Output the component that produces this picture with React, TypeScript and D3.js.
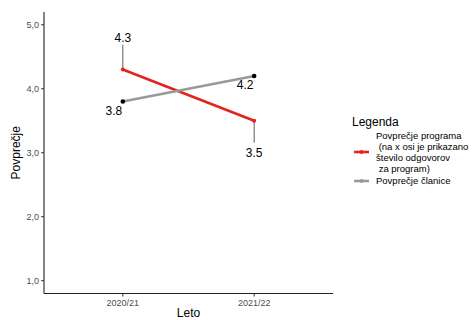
import React from "react";
import * as d3 from "d3";

const years = ["2020/21", "2021/22"];
const programValues = [4.3, 3.5];
const memberValues = [3.8, 4.2];
const yTicks = [1, 2, 3, 4, 5];
const legendProgramLines = ["Povprečje programa", " (na x osi je prikazano", "število odgovorov", " za program)"];
const legendMemberLabel = "Povprečje članice";

const W = 475, H = 320;
const panel = { left: 44, right: 333, top: 12, bottom: 293.5 };
const font = "Liberation Sans, Arial, sans-serif";

export default function App() {
  const x = d3.scaleLinear().domain([0.4, 2.6]).range([panel.left, panel.right]);
  const xPos = (i: number) => x(i + 1);
  const y = d3.scaleLinear().domain([0.8, 5.2]).range([panel.bottom, panel.top]);
  const line = d3.line<number>().x((_, i) => xPos(i)).y((v) => y(v));
  const red = "#e3241c";
  const gray = "#999999";

  const progLabels = [
    { dx: 0, dy: -32 },
    { dx: 0, dy: 32 },
  ];
  const memLabels = [
    { dx: -9, dy: 9 },
    { dx: -9, dy: 9 },
  ];

  return (
    <svg width={W} height={H} style={{ display: "block", position: "absolute", left: 0, top: 0, background: "#fff" }}>
      <line x1={panel.left} x2={panel.left} y1={panel.top} y2={panel.bottom} stroke="#222" strokeWidth={1.1} />
      <line x1={panel.left} x2={panel.right} y1={panel.bottom} y2={panel.bottom} stroke="#222" strokeWidth={1.1} />
      {yTicks.map((t) => (
        <g key={t}>
          <line x1={panel.left - 3} x2={panel.left} y1={y(t)} y2={y(t)} stroke="#333" strokeWidth={1} />
          <text x={panel.left - 5} y={y(t)} dy="0.35em" textAnchor="end" fontSize={9} fill="#4d4d4d" fontFamily={font}>
            {t.toFixed(1).replace(".", ",")}
          </text>
        </g>
      ))}
      {years.map((yr, i) => (
        <g key={yr}>
          <line x1={xPos(i)} x2={xPos(i)} y1={panel.bottom} y2={panel.bottom + 3} stroke="#333" strokeWidth={1} />
          <text x={xPos(i)} y={panel.bottom + 12} textAnchor="middle" fontSize={9} fill="#4d4d4d" fontFamily={font}>
            {yr}
          </text>
        </g>
      ))}
      <text x={(panel.left + panel.right) / 2} y={317} textAnchor="middle" fontSize={12} fill="#000" fontFamily={font}>Leto</text>
      <text transform={`translate(20,${(panel.top + panel.bottom) / 2}) rotate(-90)`} textAnchor="middle" fontSize={12} fill="#000" fontFamily={font}>Povprečje</text>

      {programValues.map((v, i) => (
        <line key={"s" + i} x1={xPos(i)} x2={xPos(i)} y1={y(v)} y2={y(v) + progLabels[i].dy + (progLabels[i].dy < 0 ? 7 : -10)} stroke="#333" strokeWidth={0.8} />
      ))}

      <path d={line(programValues) || ""} fill="none" stroke={red} strokeWidth={2.6} />
      <path d={line(memberValues) || ""} fill="none" stroke={gray} strokeWidth={2.6} />
      {programValues.map((v, i) => (
        <circle key={"p" + i} cx={xPos(i)} cy={y(v)} r={2} fill={red} />
      ))}
      {memberValues.map((v, i) => (
        <circle key={"m" + i} cx={xPos(i)} cy={y(v)} r={2.3} fill="#000" />
      ))}

      {programValues.map((v, i) => (
        <text key={"pl" + i} x={xPos(i) + progLabels[i].dx} y={y(v) + progLabels[i].dy} dy="0.35em" textAnchor="middle" fontSize={12} fill="#000" fontFamily={font}>
          {v.toFixed(1)}
        </text>
      ))}
      {memberValues.map((v, i) => (
        <text key={"ml" + i} x={xPos(i) + memLabels[i].dx} y={y(v) + memLabels[i].dy} dy="0.35em" textAnchor="middle" fontSize={12} fill="#000" fontFamily={font}>
          {v.toFixed(1)}
        </text>
      ))}

      <text x={352} y={126} fontSize={12} fill="#000" fontFamily={font}>Legenda</text>
      <line x1={354} x2={369} y1={152} y2={152} stroke={red} strokeWidth={2.6} />
      <circle cx={361.5} cy={152} r={2} fill={red} />
      {legendProgramLines.map((t, i) => (
        <text key={"lg" + i} x={376} y={136 + i * 11} dy="0.35em" fontSize={9.5} fill="#000" fontFamily={font} style={{ whiteSpace: "pre" }}>
          {t}
        </text>
      ))}
      <line x1={354} x2={369} y1={181} y2={181} stroke={gray} strokeWidth={2.6} />
      <circle cx={361.5} cy={181} r={2} fill={gray} />
      <text x={376} y={181} dy="0.35em" fontSize={9.5} fill="#000" fontFamily={font}>{legendMemberLabel}</text>
    </svg>
  );
}
